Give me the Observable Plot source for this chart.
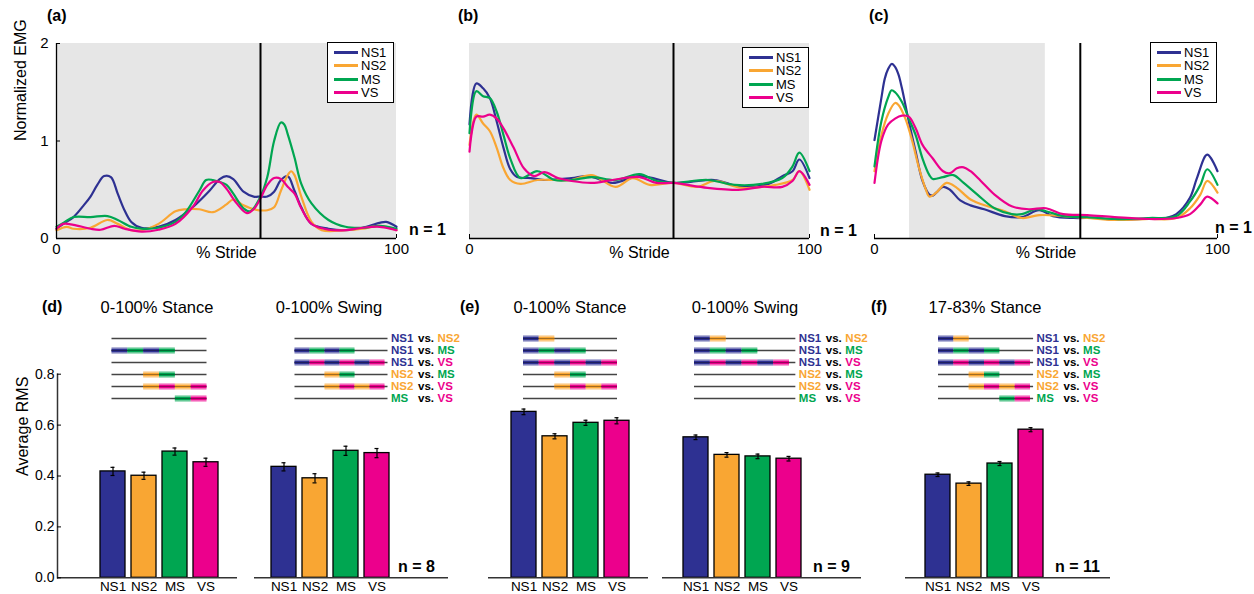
<!DOCTYPE html>
<html><head><meta charset="utf-8">
<script src="https://cdn.jsdelivr.net/npm/d3@7"></script>
<script src="https://cdn.jsdelivr.net/npm/@observablehq/plot@0.6"></script>
<style>
body{margin:0;background:#fff;font-family:"Liberation Sans",Arial,Helvetica,sans-serif;}
#fig{position:relative;width:1254px;height:594px;overflow:hidden;background:#fff;}
.layer{position:absolute;left:0;}
.t{position:absolute;white-space:nowrap;line-height:1;color:#000;}
.leg{position:absolute;border:1px solid #000;background:#fff;box-sizing:border-box;font-size:13px;}
.leg .row{position:absolute;left:0;height:13px;display:flex;align-items:center;}
.leg .sw{display:inline-block;width:24px;height:3px;margin-left:6px;margin-right:3px;}
</style></head><body><div id="fig"></div>
<script>
// ---------- data ----------
const groups = ["NS1", "NS2", "MS", "VS"];
const colors = ["#2e3192", "#f9a633", "#00a651", "#ec008c"];
const emgMax = 2;
const stanceEnd = 60;
const strideTicks = [0, 100];
const emgTicks = [0, 1, 2];
const shadeA = [0, 100];
const shadeB = [0, 100];
const shadeC = [10.2, 49.8];

// panel (a)
const a_NS1 = [[0,0.10],[2,0.15],[5,0.22],[8,0.34],[10,0.43],[12,0.55],[14,0.64],[16,0.63],[18,0.46],[20,0.29],[22,0.17],[25,0.11],[30,0.12],[35,0.19],[40,0.32],[45,0.49],[48,0.61],[50,0.64],[52,0.61],[55,0.48],[58,0.43],[60,0.43],[62,0.43],[64,0.48],[66,0.60],[68,0.64],[70,0.49],[72,0.32],[75,0.15],[80,0.10],[85,0.085],[90,0.11],[95,0.16],[97,0.17],[100,0.12]];
const a_NS2 = [[0,0.085],[3,0.12],[5,0.10],[10,0.11],[15,0.19],[18,0.15],[22,0.085],[25,0.085],[30,0.15],[35,0.28],[38,0.30],[42,0.30],[46,0.27],[50,0.35],[52,0.40],[55,0.34],[58,0.30],[62,0.29],[64,0.32],[66,0.49],[68,0.65],[69,0.69],[70,0.65],[72,0.43],[75,0.17],[78,0.085],[85,0.085],[90,0.10],[95,0.13],[100,0.085]];
const a_MS = [[0,0.12],[2,0.16],[5,0.22],[10,0.22],[15,0.23],[18,0.19],[22,0.12],[25,0.10],[30,0.11],[35,0.17],[38,0.27],[42,0.49],[44,0.60],[46,0.60],[48,0.58],[50,0.55],[52,0.46],[55,0.31],[57,0.28],[60,0.43],[62,0.63],[64,1.00],[66,1.19],[67,1.17],[68,1.07],[70,0.83],[72,0.56],[75,0.36],[80,0.19],[85,0.12],[90,0.11],[95,0.13],[100,0.10]];
const a_VS = [[0,0.10],[2,0.15],[5,0.14],[10,0.10],[13,0.09],[17,0.13],[20,0.10],[25,0.07],[30,0.09],[35,0.15],[40,0.32],[43,0.49],[46,0.58],[48,0.58],[50,0.51],[53,0.36],[56,0.26],[58,0.30],[60,0.41],[62,0.55],[64,0.62],[66,0.61],[68,0.53],[70,0.46],[72,0.31],[75,0.15],[80,0.09],[85,0.085],[90,0.11],[95,0.12],[100,0.085]];

// panel (b)
const b_NS1 = [[0,1.17],[2,1.59],[4,1.54],[6,1.44],[8,1.20],[10,0.93],[12,0.71],[14,0.63],[18,0.62],[22,0.60],[30,0.62],[35,0.64],[42,0.57],[50,0.64],[60,0.57],[65,0.58],[72,0.60],[80,0.53],[88,0.56],[92,0.64],[95,0.69],[97,0.81],[100,0.62]];
const b_NS2 = [[0,0.96],[2,1.27],[4,1.18],[6,1.10],[8,0.93],[10,0.72],[12,0.60],[15,0.56],[20,0.60],[25,0.60],[30,0.60],[36,0.65],[43,0.53],[48,0.62],[53,0.55],[60,0.57],[67,0.53],[72,0.59],[80,0.52],[90,0.55],[95,0.60],[97,0.69],[100,0.50]];
const b_MS = [[0,1.08],[2,1.51],[4,1.46],[6,1.44],[8,1.30],[10,1.06],[12,0.82],[15,0.62],[20,0.69],[25,0.60],[30,0.60],[36,0.63],[43,0.60],[50,0.66],[55,0.59],[60,0.57],[70,0.60],[78,0.55],[86,0.56],[92,0.62],[95,0.74],[97,0.88],[100,0.69]];
const b_VS = [[0,0.89],[2,1.25],[4,1.25],[6,1.27],[8,1.23],[10,1.13],[13,0.93],[16,0.72],[19,0.64],[22,0.68],[26,0.62],[30,0.59],[36,0.57],[42,0.60],[50,0.63],[55,0.57],[60,0.57],[70,0.52],[80,0.50],[86,0.53],[92,0.53],[95,0.59],[97,0.69],[100,0.55]];

// panel (c)
const c_NS1 = [[0,1.01],[2,1.44],[3,1.64],[4,1.74],[5,1.79],[6,1.76],[7,1.68],[8,1.54],[10,1.20],[12,0.89],[14,0.59],[16,0.45],[17,0.44],[18,0.47],[20,0.53],[22,0.50],[25,0.39],[28,0.34],[32,0.30],[38,0.23],[43,0.22],[48,0.29],[52,0.23],[58,0.21],[65,0.21],[70,0.19],[78,0.20],[85,0.21],[88,0.25],[92,0.42],[94,0.62],[97,0.86],[100,0.69]];
const c_NS2 = [[0,0.69],[2,1.06],[4,1.28],[6,1.39],[7,1.37],[9,1.23],[11,1.00],[13,0.72],[15,0.50],[16,0.43],[18,0.47],[21,0.57],[24,0.52],[28,0.40],[33,0.33],[38,0.28],[43,0.21],[48,0.24],[55,0.23],[62,0.21],[70,0.19],[80,0.20],[88,0.21],[92,0.31],[95,0.45],[97,0.59],[100,0.47]];
const c_MS = [[0,0.74],[2,1.20],[4,1.45],[5,1.52],[6,1.50],[8,1.40],[10,1.23],[12,1.06],[14,0.82],[16,0.65],[17,0.61],[20,0.63],[23,0.65],[26,0.57],[30,0.45],[35,0.31],[40,0.25],[43,0.25],[47,0.30],[50,0.28],[55,0.23],[62,0.22],[70,0.20],[80,0.21],[88,0.23],[92,0.38],[95,0.55],[97,0.71],[100,0.55]];
const c_VS = [[0,0.57],[2,1.00],[4,1.17],[6,1.23],[8,1.26],[10,1.25],[12,1.13],[14,0.96],[17,0.82],[20,0.69],[22,0.67],[24,0.72],[26,0.73],[28,0.69],[31,0.59],[35,0.45],[40,0.33],[45,0.30],[50,0.31],[55,0.25],[62,0.24],[70,0.22],[80,0.20],[88,0.21],[92,0.25],[95,0.35],[97,0.43],[100,0.36]];

// bar panels (Average RMS)
const rmsMax = 0.8;
const rmsTicks = [0, 0.2, 0.4, 0.6, 0.8];
const rmsDStance = [0.418, 0.401, 0.496, 0.454];
const errDStance = [0.016, 0.014, 0.014, 0.016];
const rmsDSwing  = [0.436, 0.391, 0.499, 0.490];
const errDSwing  = [0.016, 0.018, 0.018, 0.018];
const rmsEStance = [0.652, 0.556, 0.609, 0.617];
const errEStance = [0.011, 0.010, 0.010, 0.012];
const rmsESwing  = [0.552, 0.483, 0.477, 0.468];
const errESwing  = [0.009, 0.009, 0.009, 0.009];
const rmsFStance = [0.405, 0.370, 0.449, 0.582];
const errFStance = [0.007, 0.007, 0.008, 0.008];

// pairwise comparisons (1 = significant)
const pairs = [["NS1","NS2"],["NS1","MS"],["NS1","VS"],["NS2","MS"],["NS2","VS"],["MS","VS"]];
const sigDStance = [0, 1, 0, 1, 1, 1];
const sigDSwing  = [0, 1, 1, 1, 1, 0];
const sigEStance = [1, 1, 1, 1, 1, 0];
const sigESwing  = [1, 1, 1, 0, 0, 0];
const sigFStance = [1, 1, 1, 1, 1, 1];

// ---------- drawing ----------
const fig = document.getElementById("fig");
const FONT = "'Liberation Sans', Arial, Helvetica, sans-serif";
const colorScale = {domain: groups, range: colors};

function place(node, top) {
  const d = document.createElement("div");
  d.className = "layer";
  d.style.top = top + "px";
  d.appendChild(node);
  fig.appendChild(d);
}

function topPanel(series, shade, x0, x1, showY) {
  const rows = [];
  groups.forEach((g, i) => series[i].forEach(([x, y]) => rows.push({g, x, y})));
  return Plot.plot({
    width: 1254, height: 265,
    marginLeft: x0, marginRight: 1254 - x1, marginTop: 43, marginBottom: 27,
    x: {domain: [0, 100], axis: null},
    y: {domain: [0, emgMax], axis: null},
    color: colorScale,
    style: {fontFamily: FONT, fontSize: "15px", background: "transparent", overflow: "visible", color: "#000"},
    marks: [
      Plot.rect([shade], {x1: d => d[0], x2: d => d[1], y1: 0, y2: emgMax, fill: "#e6e6e6"}),
      Plot.line(rows, {x: "x", y: "y", z: "g", stroke: "g", strokeWidth: 2.2, curve: "catmull-rom"}),
      Plot.ruleX([stanceEnd], {stroke: "#000", strokeWidth: 2}),
      Plot.ruleY([0], {stroke: "#000", strokeWidth: 1.3}),
      showY ? Plot.ruleX([0], {stroke: "#000", strokeWidth: 1.3}) : null,
      Plot.axisX({ticks: strideTicks, tickSize: -4, tickPadding: 9, tickFormat: d => String(d), label: null, fill: "#000", stroke: "#000"}),
      showY ? Plot.axisY({ticks: emgTicks, tickSize: -4, tickPadding: 12, tickFormat: d => String(d), label: null, fill: "#000", stroke: "#000"}) : null,
      Plot.text(["% Stride"], {text: d => d, frameAnchor: "bottom", dy: 19, fontSize: 16, fill: "#000"}),
      showY ? Plot.text(["Normalized EMG"], {text: d => d, frameAnchor: "left", rotate: -90, dx: -36, fontSize: 16, fill: "#000"}) : null
    ]
  });
}

place(topPanel([a_NS1, a_NS2, a_MS, a_VS], shadeA, 56, 396, true), 0);
place(topPanel([b_NS1, b_NS2, b_MS, b_VS], shadeB, 469, 809, false), 0);
place(topPanel([c_NS1, c_NS2, c_MS, c_VS], shadeC, 874, 1217, false), 0);

function barPanel(vals, errs, base, range, showY) {
  const rows = groups.map((g, i) => ({g, v: vals[i], e: errs[i]}));
  return Plot.plot({
    width: 1254, height: 234,
    marginLeft: base[0], marginRight: 1254 - base[1], marginTop: 13.7, marginBottom: 16.7,
    x: {domain: groups, range, padding: 0.2, axis: null},
    y: {domain: [0, rmsMax], axis: null},
    color: colorScale,
    style: {fontFamily: FONT, fontSize: "14px", background: "transparent", overflow: "visible", color: "#000"},
    marks: [
      Plot.barY(rows, {x: "g", y: "v", fill: "g", stroke: "#000", strokeWidth: 1.3}),
      Plot.ruleX(rows, {x: "g", y1: d => d.v - d.e, y2: d => d.v + d.e, stroke: "#000", strokeWidth: 1.2}),
      Plot.tickY(rows, {x: "g", y: d => d.v - d.e, insetLeft: 10.5, insetRight: 10.5, stroke: "#000", strokeWidth: 1.2}),
      Plot.tickY(rows, {x: "g", y: d => d.v + d.e, insetLeft: 10.5, insetRight: 10.5, stroke: "#000", strokeWidth: 1.2}),
      Plot.ruleY([0], {stroke: "#333", strokeWidth: 1.5}),
      Plot.axisX({tickSize: 0, tickPadding: 4, fontSize: 13.5, label: null, fill: "#000"}),
      showY ? Plot.frame({anchor: "left", stroke: "#333", strokeWidth: 1.5}) : null,
      showY ? Plot.axisY({ticks: rmsTicks, tickSize: -4, tickPadding: 7, label: null, fill: "#000", stroke: "#000"}) : null,
      showY ? Plot.text(["Average RMS"], {text: d => d, frameAnchor: "left", rotate: -90, dx: -35, fontSize: 16, fill: "#000"}) : null
    ]
  });
}

place(barPanel(rmsDStance, errDStance, [57, 237], [92, 225], true), 360);
place(barPanel(rmsDSwing, errDSwing, [254, 448], [263.5, 396.5], false), 360);
place(barPanel(rmsEStance, errEStance, [488, 648], [503, 636], false), 360);
place(barPanel(rmsESwing, errESwing, [662, 861], [675.5, 808.5], false), 360);
place(barPanel(rmsFStance, errFStance, [905, 1110], [917, 1050], false), 360);

function diagram(sig, range, lineEnd, labels) {
  const rows = pairs.map(([a, b], i) => ({pair: a + " vs. " + b, a, b, sig: sig[i], end: lineEnd}));
  const segs = [];
  rows.forEach(r => {
    if (!r.sig) return;
    const i0 = groups.indexOf(r.a), i1 = groups.indexOf(r.b);
    const n = (i1 - i0) * 2;
    for (let k = 0; k < n; k++) segs.push({pair: r.pair, x1: i0 + k / 2, x2: i0 + (k + 1) / 2, g: k % 2 ? r.b : r.a});
  });
  return Plot.plot({
    width: 1254, height: 95, margin: 0,
    x: {domain: [0, groups.length - 1], range, axis: null},
    y: {type: "point", domain: rows.map(r => r.pair), range: [13.5, 85.5], axis: null},
    color: colorScale,
    style: {fontFamily: FONT, fontSize: "11.5px", background: "transparent", overflow: "visible"},
    marks: [
      Plot.ruleY(rows, {y: "pair", x1: 0, x2: "end", stroke: "#444", strokeWidth: 1.3}),
      Plot.ruleY(segs, {y: "pair", x1: "x1", x2: "x2", stroke: "g", strokeWidth: 7, strokeOpacity: 0.35}),
      Plot.ruleY(segs, {y: "pair", x1: "x1", x2: "x2", stroke: "g", strokeWidth: 3.8}),
      Plot.ruleY(segs, {y: "pair", x1: "x1", x2: "x2", stroke: "#000", strokeWidth: 1, strokeOpacity: 0.35}),
      labels ? Plot.text(rows, {x: "end", y: "pair", text: "a", fill: "a", dx: 3, textAnchor: "start", fontWeight: "bold"}) : null,
      labels ? Plot.text(rows, {x: "end", y: "pair", text: () => "vs.", fill: "#000", dx: 30, textAnchor: "start", fontWeight: "bold"}) : null,
      labels ? Plot.text(rows, {x: "end", y: "pair", text: "b", fill: "b", dx: 49.5, textAnchor: "start", fontWeight: "bold"}) : null
    ]
  });
}

place(diagram(sigDStance, [111.5, 206.5], 3, false), 318);
place(diagram(sigDSwing, [294.5, 384.5], 3.1, true), 318);
place(diagram(sigEStance, [523, 617], 3, false), 318);
place(diagram(sigESwing, [694, 789], 3.2, true), 318);
place(diagram(sigFStance, [938, 1030], 3.1, true), 318);

// legends
function legend(left, top) {
  const d = document.createElement("div");
  d.className = "leg";
  d.style.left = left + "px"; d.style.top = top + "px";
  d.style.width = "67px"; d.style.height = "61px";
  groups.forEach((g, i) => {
    const r = document.createElement("div");
    r.className = "row";
    r.style.top = (3 + i * 13.3) + "px";
    const sw = document.createElement("span");
    sw.className = "sw"; sw.style.background = colors[i];
    const tx = document.createElement("span");
    tx.textContent = g;
    r.appendChild(sw); r.appendChild(tx);
    d.appendChild(r);
  });
  fig.appendChild(d);
}
legend(327, 42);
legend(742, 47);
legend(1150, 42);

// text labels
const labels = [
  {t: "(a)", x: 47, y: 16, b: true, s: 16},
  {t: "(b)", x: 458, y: 16, b: true, s: 16},
  {t: "(c)", x: 869, y: 16, b: true, s: 16},
  {t: "(d)", x: 42, y: 307, b: true, s: 16},
  {t: "(e)", x: 460, y: 307, b: true, s: 16},
  {t: "(f)", x: 871, y: 307, b: true, s: 16},
  {t: "0-100% Stance", x: 157, y: 307, c: true, s: 16.5},
  {t: "0-100% Swing", x: 329, y: 307, c: true, s: 16.5},
  {t: "0-100% Stance", x: 570, y: 307, c: true, s: 16.5},
  {t: "0-100% Swing", x: 745, y: 307, c: true, s: 16.5},
  {t: "17-83% Stance", x: 985, y: 307, c: true, s: 16.5},
  {t: "n = 1", x: 409, y: 230, b: true, s: 16},
  {t: "n = 1", x: 820, y: 231, b: true, s: 16},
  {t: "n = 1", x: 1215, y: 228, b: true, s: 16},
  {t: "n = 8", x: 398, y: 567, b: true, s: 16},
  {t: "n = 9", x: 813, y: 567, b: true, s: 16},
  {t: "n = 11", x: 1055, y: 567, b: true, s: 16}
];
labels.forEach(l => {
  const d = document.createElement("div");
  d.className = "t";
  d.textContent = l.t;
  d.style.fontSize = l.s + "px";
  d.style.fontWeight = l.b ? "bold" : "normal";
  d.style.left = l.x + "px";
  d.style.top = (l.y - l.s * 0.5) + "px";
  if (l.c) d.style.transform = "translateX(-50%)";
  fig.appendChild(d);
});
</script></body></html>
